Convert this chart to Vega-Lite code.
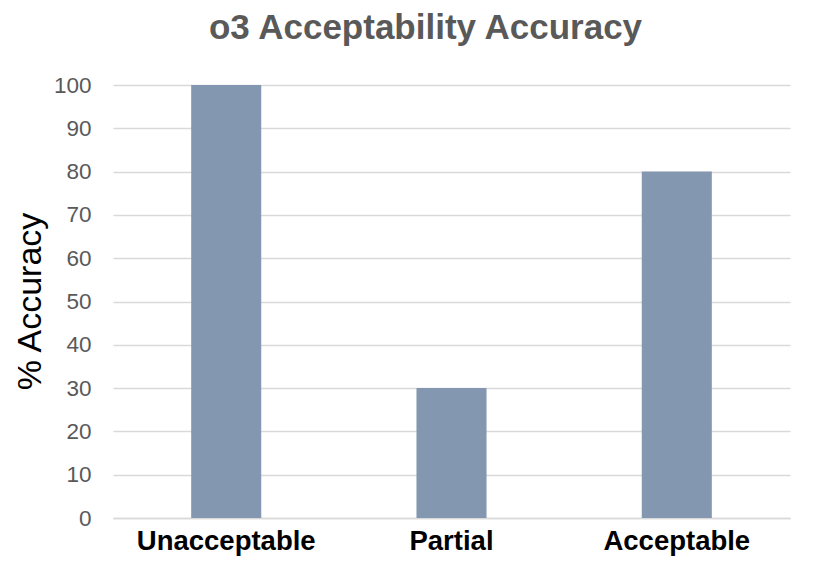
{
  "$schema": "https://vega.github.io/schema/vega-lite/v6.json",
  "autosize": {"type": "none"},
  "padding": {"left": 113, "top": 85, "right": 31, "bottom": 52},
  "width": 677,
  "height": 433,
  "background": "white",
  "title": {
    "text": "o3 Acceptability Accuracy",
    "font": "Liberation Sans",
    "fontSize": 35,
    "fontWeight": "bold",
    "color": "#595959",
    "anchor": "middle",
    "frame": "group",
    "baseline": "alphabetic",
    "offset": 0,
    "dx": -26
  },
  "config": {
    "view": {"stroke": null},
    "font": "Liberation Sans"
  },
  "data": {
    "values": [
      {"category": "Unacceptable", "accuracy": 100},
      {"category": "Partial", "accuracy": 30},
      {"category": "Acceptable", "accuracy": 80}
    ]
  },
  "mark": {"type": "bar", "color": "#8497B0"},
  "encoding": {
    "x": {
      "field": "category",
      "type": "nominal",
      "sort": null,
      "scale": {"paddingInner": 0.689, "paddingOuter": 0.347},
      "axis": {
        "title": null,
        "labelAngle": 0,
        "labelFont": "Liberation Sans",
        "labelFontSize": 27.5,
        "labelFontWeight": "bold",
        "labelColor": "#000000",
        "labelPadding": 9,
        "ticks": false,
        "domain": true,
        "domainColor": "#d9d9d9",
        "domainWidth": 1.5
      }
    },
    "y": {
      "field": "accuracy",
      "type": "quantitative",
      "scale": {"domain": [0, 100], "nice": false},
      "axis": {
        "values": [0, 10, 20, 30, 40, 50, 60, 70, 80, 90, 100],
        "title": "% Accuracy",
        "titleFont": "Liberation Sans",
        "titleFontSize": 34,
        "titleFontWeight": "normal",
        "titleColor": "#000000",
        "titleAngle": -90,
        "titleX": -83,
        "titleY": 216,
        "titleAlign": "center",
        "titleBaseline": "middle",
        "labelFont": "Liberation Sans",
        "labelFontSize": 22.5,
        "labelColor": "#595959",
        "labelPadding": 22,
        "ticks": false,
        "domain": false,
        "grid": true,
        "gridColor": "#d9d9d9",
        "gridWidth": 1.5
      }
    }
  }
}
